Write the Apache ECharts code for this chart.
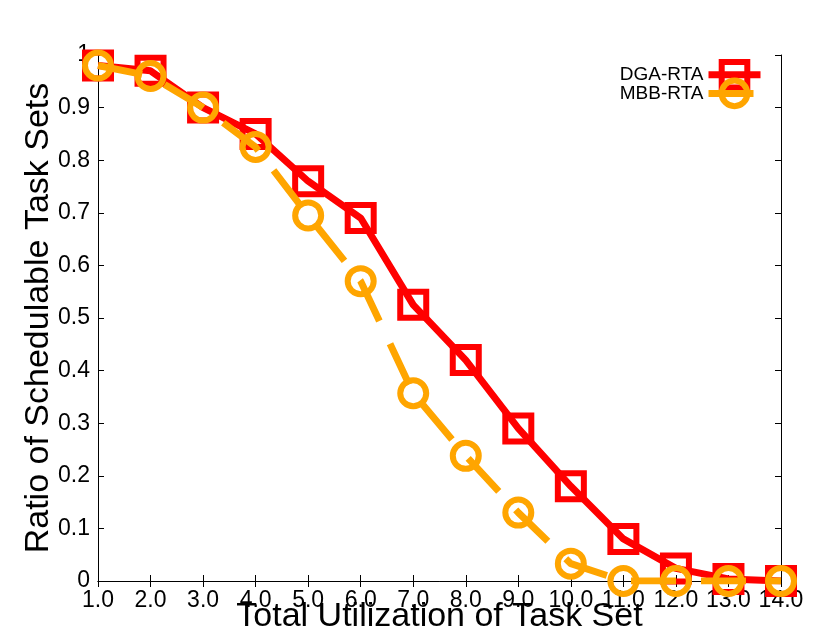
<!DOCTYPE html>
<html>
<head>
<meta charset="utf-8">
<script src="https://cdn.jsdelivr.net/npm/echarts@6/dist/echarts.min.js"></script>
<style>
html, body { margin: 0; padding: 0; background: #fff; }
#chart { width: 830px; height: 642px; }
</style>
</head>
<body>
<div id="chart"></div>
<script>
// total utilization (x axis)
var utilLabels = ['1.0', '2.0', '3.0', '4.0', '5.0', '6.0', '7.0', '8.0', '9.0', '10.0', '11.0', '12.0', '13.0', '14.0'];
// ratio of schedulable task sets
var dgaRta = [0.98, 0.97, 0.90, 0.85, 0.76, 0.69, 0.525, 0.42, 0.29, 0.18, 0.08, 0.024, 0.004, 0.0];
var mbbRta = [0.98, 0.96, 0.90, 0.825, 0.695, 0.57, 0.357, 0.238, 0.13, 0.033, 0.0, 0.0, 0.0, 0.0];

var font = 'Liberation Sans, Arial, sans-serif';
var myChart = echarts.init(document.getElementById('chart'));

var hiddenAxis = {
  axisLine: { show: true, lineStyle: { color: '#000', width: 1 } },
  axisTick: { show: true, inside: true, length: 6, lineStyle: { color: '#000' } },
  axisLabel: { show: false },
  splitLine: { show: false }
};

myChart.setOption({
  animation: false,
  backgroundColor: '#fff',
  grid: { left: 98, right: 49, top: 55, bottom: 61, outerBoundsMode: 'none', containLabel: false },
  legend: {
    orient: 'vertical',
    right: 61,
    top: 54,
    align: 'right',
    itemWidth: 52,
    itemHeight: 32,
    itemGap: -13,
    lineStyle: { width: 7 },
    itemStyle: { borderWidth: 6 },
    textStyle: { fontFamily: font, fontSize: 19, color: '#000' },
    data: ['DGA-RTA', 'MBB-RTA']
  },
  xAxis: [
    {
      type: 'category',
      data: utilLabels,
      boundaryGap: false,
      name: 'Total Utilization of Task Set',
      nameLocation: 'middle',
      nameGap: 19,
      nameMoveOverlap: false,
      nameTextStyle: { fontFamily: font, fontSize: 34, color: '#000', verticalAlign: 'top' },
      axisLine: { lineStyle: { color: '#000', width: 1 } },
      axisTick: { inside: true, length: 6, alignWithLabel: true, lineStyle: { color: '#000' } },
      axisLabel: { fontFamily: font, fontSize: 23, color: '#000', margin: 8, interval: 0 },
      splitLine: { show: false }
    },
    Object.assign({ type: 'category', data: utilLabels, boundaryGap: false, position: 'top' }, hiddenAxis)
  ],
  yAxis: [
    {
      type: 'value',
      min: 0,
      max: 1,
      interval: 0.1,
      name: 'Ratio of Schedulable Task Sets',
      nameLocation: 'middle',
      nameGap: 42,
      nameMoveOverlap: false,
      nameTextStyle: { fontFamily: font, fontSize: 34, color: '#000' },
      axisLine: { show: true, lineStyle: { color: '#000', width: 1 } },
      axisTick: { show: true, inside: true, length: 6, lineStyle: { color: '#000' } },
      axisLabel: { fontFamily: font, fontSize: 23, color: '#000', margin: 8 },
      splitLine: { show: false }
    },
    Object.assign({ type: 'value', min: 0, max: 1, interval: 0.1, position: 'right' }, hiddenAxis)
  ],
  series: [
    {
      name: 'DGA-RTA',
      type: 'line',
      data: dgaRta,
      symbol: 'rect',
      symbolSize: 26,
      showAllSymbol: true,
      lineStyle: { color: '#ff0000', width: 7 },
      itemStyle: { color: 'rgba(255,255,255,0)', borderColor: '#ff0000', borderWidth: 6 },
      z: 2
    },
    {
      name: 'MBB-RTA',
      type: 'line',
      data: mbbRta,
      symbol: 'circle',
      symbolSize: 26,
      showAllSymbol: true,
      lineStyle: { color: '#ffa500', width: 7, type: [45, 25] },
      itemStyle: { color: 'rgba(255,255,255,0)', borderColor: '#ffa500', borderWidth: 6 },
      z: 3
    }
  ]
});
</script>
</body>
</html>
